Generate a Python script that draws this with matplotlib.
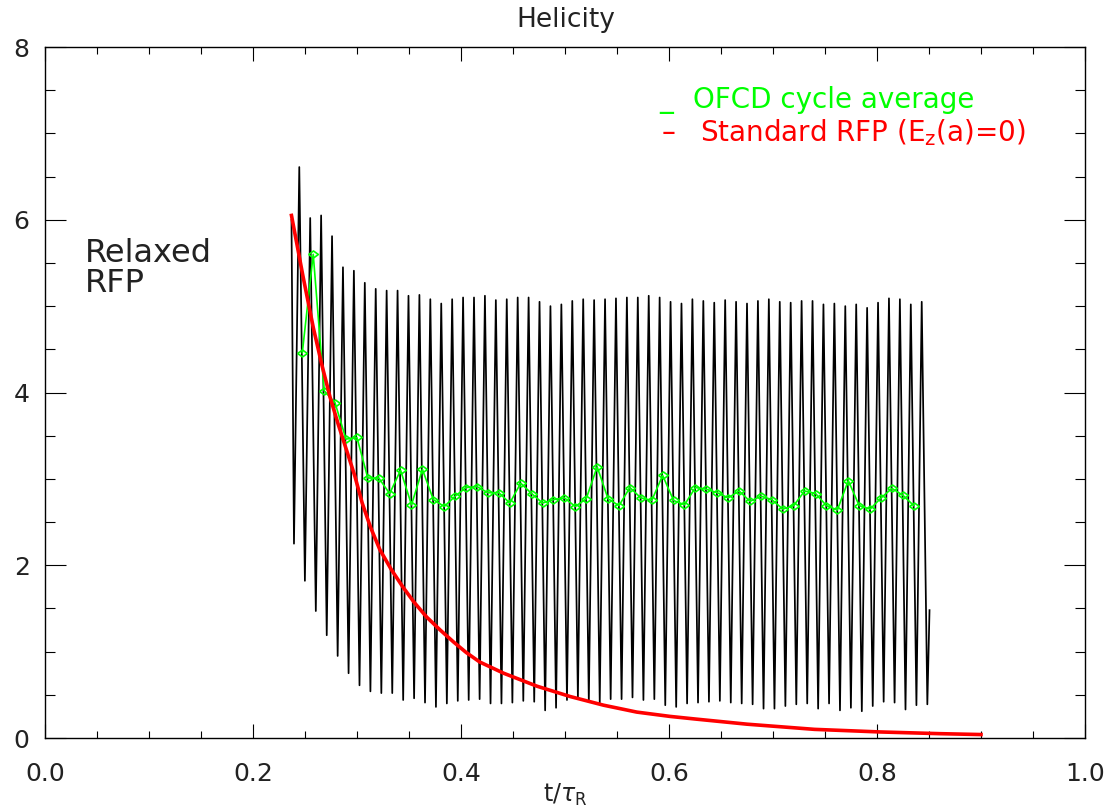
import matplotlib
matplotlib.use("Agg")
from matplotlib import pyplot as plt
from matplotlib.ticker import MultipleLocator
import numpy as np

plt.rcParams["font.family"] = ["DejaVu Sans"]

# OFCD drive: one cycle every CYCLE (in t/tau_R); first peak / trough / average time
CYCLE = 0.0105
PEAK_T0 = 0.2445
TROUGH_T0 = 0.2394
AVG_T0 = 0.2474
START_T, START_H = 0.2370, 6.00
END_T, END_H = 0.8505, 1.48

# helicity at each cycle maximum (58 cycles)
PEAK_H = [
    6.61, 6.02, 6.05, 5.81, 5.45, 5.41, 5.27, 5.20, 5.18, 5.18,
    5.12, 5.13, 5.08, 5.03, 5.08, 5.10, 5.10, 5.12, 5.07, 5.08,
    5.10, 5.10, 5.05, 5.00, 5.02, 5.06, 5.08, 5.07, 5.08, 5.09,
    5.10, 5.10, 5.12, 5.10, 5.05, 5.03, 5.08, 5.06, 5.04, 5.07,
    5.05, 5.03, 5.06, 5.08, 5.05, 5.04, 5.06, 5.06, 5.02, 5.03,
    5.00, 5.02, 4.98, 5.04, 5.09, 5.08, 5.02, 5.05,
]

# helicity at each cycle minimum (59 troughs)
TROUGH_H = [
    2.25, 1.82, 1.47, 1.19, 0.95, 0.75, 0.61, 0.54, 0.52, 0.52,
    0.44, 0.46, 0.41, 0.36, 0.40, 0.43, 0.44, 0.45, 0.40, 0.40,
    0.41, 0.43, 0.42, 0.32, 0.35, 0.44, 0.46, 0.42, 0.41, 0.45,
    0.45, 0.47, 0.44, 0.45, 0.38, 0.36, 0.40, 0.41, 0.42, 0.43,
    0.41, 0.40, 0.39, 0.34, 0.34, 0.37, 0.39, 0.40, 0.34, 0.40,
    0.32, 0.35, 0.31, 0.37, 0.42, 0.41, 0.33, 0.38, 0.39,
]

# OFCD cycle average (57 cycles)
AVG_H = [
    4.46, 5.60, 4.02, 3.88, 3.46, 3.48, 3.01, 3.01, 2.83, 3.10,
    2.70, 3.11, 2.76, 2.68, 2.80, 2.90, 2.91, 2.84, 2.84, 2.72,
    2.95, 2.83, 2.72, 2.76, 2.78, 2.68, 2.77, 3.14, 2.77, 2.69,
    2.90, 2.78, 2.75, 3.04, 2.75, 2.70, 2.90, 2.88, 2.84, 2.78,
    2.86, 2.74, 2.80, 2.76, 2.65, 2.69, 2.86, 2.83, 2.69, 2.64,
    2.98, 2.69, 2.65, 2.78, 2.89, 2.81, 2.69,
]

# standard RFP, E_z(a)=0
RFP_T = [0.237, 0.248, 0.258, 0.266, 0.274, 0.282, 0.290, 0.298, 0.305,
         0.313, 0.322, 0.333, 0.344, 0.355, 0.367, 0.380, 0.393, 0.405,
         0.418, 0.441, 0.473, 0.505, 0.537, 0.569, 0.601, 0.625, 0.675,
         0.740, 0.803, 0.861, 0.900]
RFP_H = [6.05, 5.35, 4.75, 4.33, 3.95, 3.63, 3.33, 3.03, 2.72,
         2.44, 2.18, 1.95, 1.75, 1.57, 1.40, 1.25, 1.11, 0.99,
         0.88, 0.75, 0.60, 0.48, 0.38, 0.30, 0.25, 0.22, 0.16,
         0.10, 0.07, 0.05, 0.04]

t_peak = PEAK_T0 + CYCLE * np.arange(len(PEAK_H))
t_trough = TROUGH_T0 + CYCLE * np.arange(len(TROUGH_H))
t_avg = AVG_T0 + CYCLE * np.arange(len(AVG_H))

# interleave trough, peak, trough, ... into one trace
n = len(PEAK_H) + len(TROUGH_H)
t_osc = np.empty(n)
h_osc = np.empty(n)
t_osc[0::2], h_osc[0::2] = t_trough, TROUGH_H
t_osc[1::2], h_osc[1::2] = t_peak, PEAK_H
t_osc = np.concatenate([[START_T], t_osc, [END_T]])
h_osc = np.concatenate([[START_H], h_osc, [END_H]])

fig = plt.figure(figsize=(11.1, 8.11), dpi=100)
ax = fig.add_axes([0.04054, 0.09001, 0.93694, 0.85203])

ax.plot(t_osc, h_osc, color="black", lw=1.25)
diamond = [(-1, 0), (0, 0.72), (1, 0), (0, -0.72), (-1, 0)]
ax.plot(t_avg, AVG_H, color="#00ff00", lw=1.2, marker=diamond, ms=7,
        mfc="none", mec="#00ff00", mew=1.2)
ax.plot(RFP_T, RFP_H, color="#ff0000", lw=2.6)

ax.set_xlim(0, 1)
ax.set_ylim(0, 8)
ax.xaxis.set_major_locator(MultipleLocator(0.2))
ax.xaxis.set_minor_locator(MultipleLocator(0.05))
ax.yaxis.set_major_locator(MultipleLocator(2))
ax.yaxis.set_minor_locator(MultipleLocator(0.5))
ax.xaxis.set_major_formatter(lambda v, p: f"{v:.1f}")
ax.yaxis.set_major_formatter(lambda v, p: f"{v:.0f}")

ax.tick_params(which="both", direction="in", top=True, right=True,
               width=0.8, colors="black", labelcolor="#222222", labelsize=18)
ax.tick_params(axis="x", which="major", length=10, pad=17)
ax.tick_params(axis="x", which="minor", length=5)
ax.tick_params(axis="y", which="major", length=15, pad=11)
ax.tick_params(axis="y", which="minor", length=7.5)
for s in ax.spines.values():
    s.set_linewidth(1.0)

ax.set_xlabel(r"t/$\tau_{\rm R}$", fontsize=17, color="#222222")
ax.xaxis.set_label_coords(0.5, -0.064)
fig.text(0.51, 1 - 20 / 811, "Helicity", ha="center", va="center",
         fontsize=19, color="#222222")

ax.text(0.591, 0.923, "_", color="#00ff00", fontsize=20, va="center",
        transform=ax.transAxes)
ax.text(0.623, 0.923, "OFCD cycle average", color="#00ff00", fontsize=20,
        va="center", transform=ax.transAxes)
ax.text(0.593, 0.8755, "\u2013", color="#ff0000", fontsize=20, va="center",
        transform=ax.transAxes)
ax.text(0.630, 0.8755, r"Standard RFP (E$_{\rm z}$(a)=0)", color="#ff0000",
        fontsize=20, va="center", transform=ax.transAxes)

ax.text(0.0385, 0.680, "Relaxed\nRFP", color="#222222", fontsize=23,
        va="center", ha="left", linespacing=0.95, transform=ax.transAxes)

fig.savefig("out.png", dpi=100)
